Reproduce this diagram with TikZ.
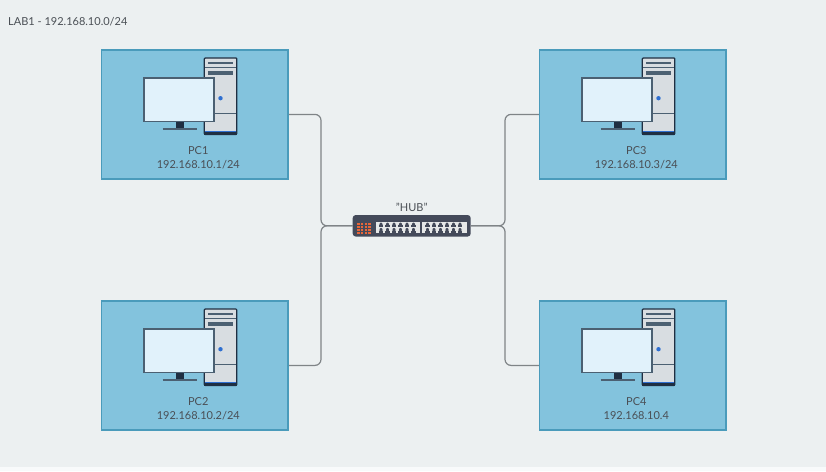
\documentclass[tikz,border=0pt]{standalone}
\usepackage{fontspec}
\setmainfont{Lato}
\usetikzlibrary{positioning}

\definecolor{bgcol}{HTML}{ECF0F1}
\definecolor{stripcol}{HTML}{F8FAFB}
\definecolor{pcfill}{HTML}{83C3DD}
\definecolor{pcline}{HTML}{4A9BBB}
\definecolor{wirecol}{HTML}{7F8487}
\definecolor{textcol}{HTML}{4A4F55}
\definecolor{darkline}{HTML}{1F2F42}
\definecolor{midline}{HTML}{4B6072}
\definecolor{screencol}{HTML}{E1F2FB}
\definecolor{casecol}{HTML}{D8DDE1}
\definecolor{dotcol}{HTML}{2F6FD0}
\definecolor{hubcol}{HTML}{444A5A}
\definecolor{portcol}{HTML}{E6E8E8}
\definecolor{ledcol}{HTML}{E8663A}

\tikzset{
    pcbox/.style={
        draw=pcline, line width=1.5pt,
        rectangle,
        fill=pcfill,
        minimum width=186.5pt,
        minimum height=128.8pt
    },
    lbl/.style={
        align=center,
        font=\fontsize{11}{14}\selectfont,
        text=textcol,
        inner sep=0pt
    },
    wire/.style={
        draw=wirecol, line width=1.2pt,
        rounded corners=6pt
    },
    hubbox/.style={
        draw=none,
        fill=hubcol,
        rounded corners=3pt,
        minimum width=118pt,
        minimum height=21.5pt,
        inner sep=0pt
    }
}

% computer: (0,0) is the centre of the box
\newcommand{\pcicon}[1]{
\begin{scope}[shift={(#1)}]
    % tower
    \draw[darkline, line width=1.2pt, fill=casecol, rounded corners=1pt] (9.5,-56.5) rectangle (42,20);
    \fill[darkline] (9.5,18) rectangle (42,20.5);
    \fill[dotcol] (10.5,16.6) rectangle (41,18);
    \draw[midline, line width=.7pt] (10,-47.2) -- (41.5,-47.2);
    \draw[midline, line width=.7pt] (10,-1.2) -- (41.5,-1.2);
    \fill[midline] (12.7,-52.8) rectangle (38.3,-50.2);
    \fill[midline] (12.7,-43.8) rectangle (38.3,-39.5);
    \fill[dotcol] (25.7,-16.2) circle (2.2);
    % monitor
    \fill[darkline] (-19.3,7) rectangle (-11,14);
    \draw[midline, line width=2.2pt] (-32.3,14.8) -- (1.7,14.8);
    \draw[midline, line width=1.5pt, fill=screencol] (-50.7,-36.2) rectangle (19.3,7.2);
\end{scope}
}

\begin{document}
\begin{tikzpicture}[x=1pt,y=-1pt]
\useasboundingbox[fill=bgcol] (0,0) rectangle (826,471);
\fill[stripcol] (0,466.7) rectangle (826,471);

% ====== title ======
\node[lbl, anchor=west] (title) at (8,21.7) {LAB1 - 192.168.10.0/24};

% ====== computers ======
\node[pcbox] (pc1) at (194.8,114.4) {};
\node[pcbox] (pc2) at (194.8,365.4) {};
\node[pcbox] (pc3) at (632.8,114.4) {};
\node[pcbox] (pc4) at (632.8,365.4) {};

\pcicon{pc1.center}
\pcicon{pc2.center}
\pcicon{pc3.center}
\pcicon{pc4.center}

\node[lbl] (pc1lbl) at (198.3,158) {PC1\\192.168.10.1/24};
\node[lbl] (pc2lbl) at (198.3,409) {PC2\\192.168.10.2/24};
\node[lbl] (pc3lbl) at (636.3,158) {PC3\\192.168.10.3/24};
\node[lbl] (pc4lbl) at (636.3,409) {PC4\\192.168.10.4};

% ====== hub ======
\node[hubbox] (hub) at (411.7,225.8) {};
\node[lbl] (hublbl) at (411.7,207.7) {"HUB"};

\fill[portcol] (375.7,221.7) rectangle (420,233.3);
\fill[portcol] (422.3,221.7) rectangle (466.7,233.3);
\foreach \px in {0,...,5} {
    \foreach \py in {0,1} {
        \fill[hubcol] (381+6.5*\px,224.7+5.4*\py) circle (1.6 and 2.2);
        \fill[hubcol] (427.5+6.5*\px,224.7+5.4*\py) circle (1.6 and 2.2);
        \fill[hubcol] (378.8+6.5*\px,225.2+5.4*\py) rectangle ++(4.4,1.9);
        \fill[hubcol] (425.3+6.5*\px,225.2+5.4*\py) rectangle ++(4.4,1.9);
    }
}
\foreach \px in {0,...,3} {
    \foreach \py in {0,...,3} {
        \fill[ledcol] (357.3+3.6*\px,223+2.9*\py) rectangle ++(2.4,1.9);
    }
}

% ====== wires ======
\coordinate (j1) at (321,225.8);
\coordinate (j2) at (321,225.8);
\coordinate (j3) at (505,225.8);
\coordinate (j4) at (505,225.8);

\draw[wire] (pc1.east) -| (j1) -- (hub.west);
\draw[wire] (pc2.east) -| (j2) -- (hub.west);
\draw[wire] (pc3.west) -| (j3) -- (hub.east);
\draw[wire] (pc4.west) -| (j4) -- (hub.east);

\end{tikzpicture}
\end{document}
